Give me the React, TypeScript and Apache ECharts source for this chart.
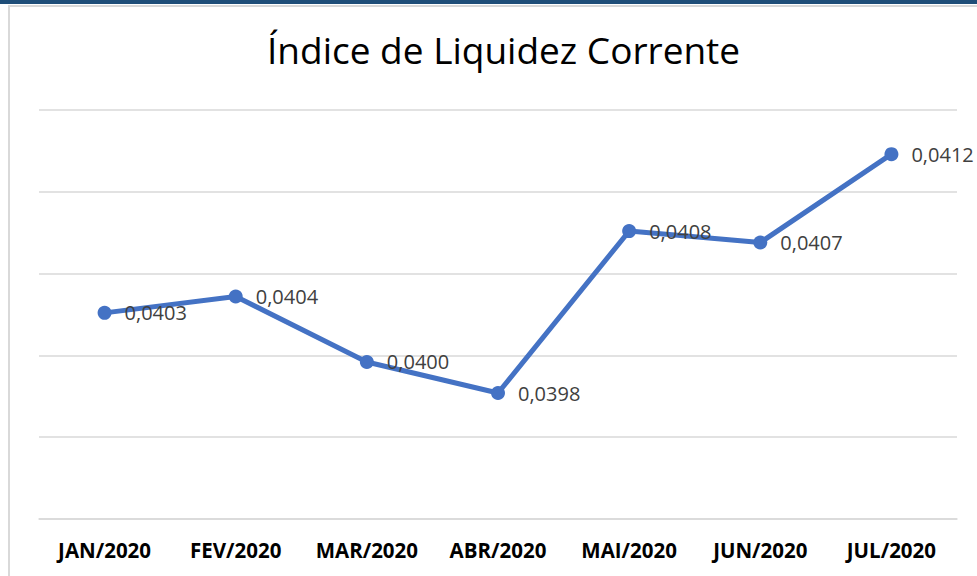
import React, { useEffect, useRef } from "react";
import * as echarts from "echarts";

const categories = ["JAN/2020", "FEV/2020", "MAR/2020", "ABR/2020", "MAI/2020", "JUN/2020", "JUL/2020"];
const values = [0.04026, 0.04036, 0.03996, 0.03977, 0.04076, 0.04069, 0.04123];
const yMin = 0.039;
const yMax = 0.0415;
const yInterval = 0.0005;
const titleText = "Índice de Liquidez Corrente";

export default function App() {
  const ref = useRef<HTMLDivElement>(null);
  useEffect(() => {
    if (!ref.current) return;
    const chart = echarts.init(ref.current, null, { renderer: "svg" });
    chart.setOption({
      animation: false,
      backgroundColor: "#ffffff",
      title: {
        text: titleText,
        left: 262,
        top: 26,
        textStyle: {
          fontFamily: "Open Sans",
          fontSize: 37,
          fontWeight: "normal",
          color: "#000000",
        },
      },
      graphic: [
        { type: "rect", shape: { x: 0, y: 0, width: 977, height: 4 }, style: { fill: "#1F4E79" } },
        { type: "rect", shape: { x: 8, y: 5, width: 969, height: 2 }, style: { fill: "#d9d9d9" } },
        { type: "rect", shape: { x: 8, y: 5, width: 2, height: 571 }, style: { fill: "#d9d9d9" } },
      ],
      grid: { left: 39, right: 20, top: 110, bottom: 57, containLabel: false },
      xAxis: {
        type: "category",
        data: categories,
        boundaryGap: true,
        axisLine: { show: true, lineStyle: { color: "#d9d9d9", width: 1.5 } },
        axisTick: { show: false },
        axisLabel: {
          interval: 0,
          hideOverlap: false,
          margin: 20,
          fontFamily: "Open Sans",
          fontSize: 20.5,
          fontWeight: "bold",
          color: "#000000",
        },
      },
      yAxis: {
        type: "value",
        min: yMin,
        max: yMax,
        interval: yInterval,
        axisLabel: { show: false },
        axisLine: { show: false },
        axisTick: { show: false },
        splitLine: { lineStyle: { color: "#d9d9d9", width: 1.5 } },
      },
      series: [
        {
          type: "line",
          data: values,
          symbol: "circle",
          symbolSize: 14,
          lineStyle: { color: "#4472C4", width: 5 },
          itemStyle: { color: "#4472C4" },
          label: {
            show: true,
            position: "right",
            distance: 13,
            fontFamily: "Open Sans",
            fontSize: 20,
            color: "#404040",
            formatter: (p: any) => p.value.toFixed(4).replace(".", ","),
          },
        },
      ],
    });
    return () => chart.dispose();
  }, []);
  return (
    <div
      ref={ref}
      style={{ position: "fixed", left: 0, top: 0, width: 977, height: 576 }}
    />
  );
}
